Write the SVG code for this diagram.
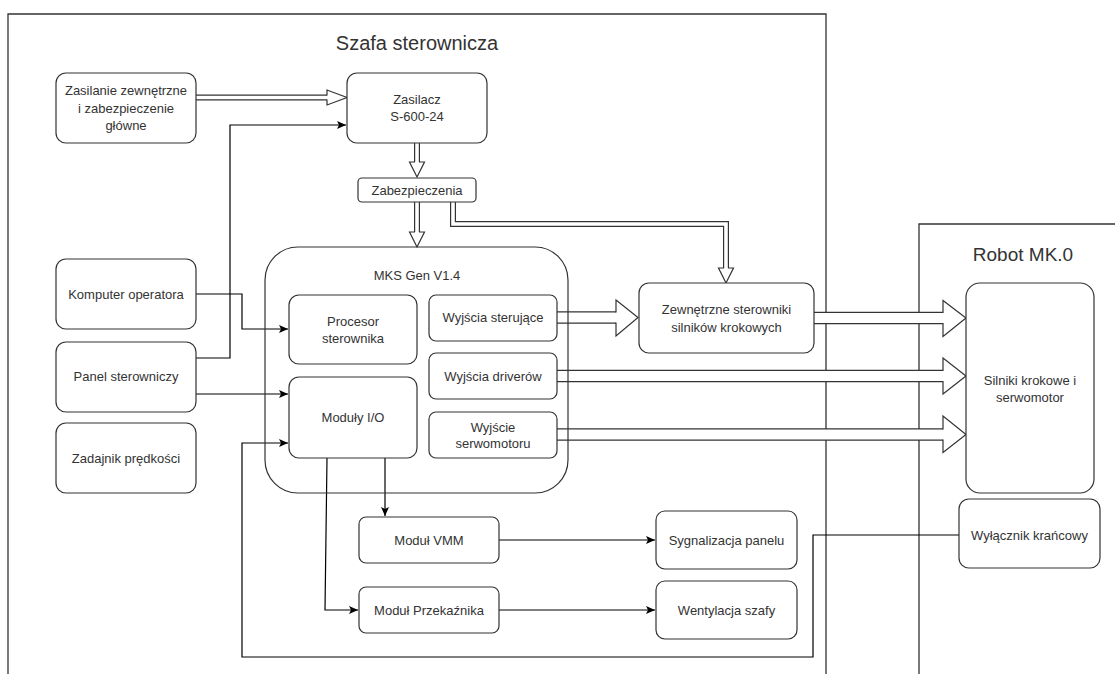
<svg xmlns="http://www.w3.org/2000/svg" width="1115" height="674" viewBox="0 0 1115 674">
<style>
.box{fill:#fff;stroke:#333;stroke-width:1.2}
.frame{fill:none;stroke:#333;stroke-width:1.3}
.t{font-family:"Liberation Sans",Arial,sans-serif;font-size:13px;fill:#333;text-anchor:middle}
.title{font-family:"Liberation Sans",Arial,sans-serif;fill:#333;text-anchor:middle}
.ln{fill:none;stroke:#000;stroke-width:1.2}
.fo{fill:none;stroke:#333;stroke-linejoin:miter}
.fi{fill:none;stroke:#fff;stroke-linejoin:miter}
.hd{fill:#fff;stroke:#333;stroke-width:1.2;stroke-linejoin:miter}
</style>
<defs>
<marker id="arr" markerUnits="userSpaceOnUse" markerWidth="10" markerHeight="10" refX="9" refY="4" orient="auto">
<path d="M0,0 L9,4 L0,8 L2,4 z" fill="#000"/>
</marker>
</defs>

<g id="containers">
<path class="frame" d="M8,674 L8,14 L826,14 L826,674"/>
<text class="title" x="417" y="50" font-size="20">Szafa sterownicza</text>
<path class="frame" d="M919,674 L919,224 L1115,224"/>
<text class="title" x="1023" y="261" font-size="19">Robot MK.0</text>
</g>

<g id="connectors">
<!-- thin connectors -->
<path class="ln" d="M196,358 L230,358 L230,125 L346,125" marker-end="url(#arr)"/>
<path class="ln" d="M196,294 L242,294 L242,329 L288,329" marker-end="url(#arr)"/>
<path class="ln" d="M196,394 L288,394" marker-end="url(#arr)"/>
<path class="ln" d="M959,535 L813,535 L813,657 L242,657 L242,443 L288,443" marker-end="url(#arr)"/>
<path class="ln" d="M385,458 L385,516" marker-end="url(#arr)"/>
<path class="ln" d="M327,458 L325,610 L358,610" marker-end="url(#arr)"/>
<path class="ln" d="M499,540 L655,540" marker-end="url(#arr)"/>
<path class="ln" d="M499,610 L655,610" marker-end="url(#arr)"/>

<!-- small flex arrows -->
<path class="fo" stroke-width="6" d="M196,97.5 L327,97.5"/>
<path class="fi" stroke-width="3.6" d="M196,97.5 L328,97.5"/>
<path class="hd" d="M327,95.5 L327,90 L347,97.5 L327,105 L327,99.5"/>

<path class="fo" stroke-width="6" d="M417,143 L417,162"/>
<path class="fi" stroke-width="3.6" d="M417,143 L417,163"/>
<path class="hd" d="M415,162 L409.5,162 L417,177 L424.5,162 L419,162"/>

<path class="fo" stroke-width="6" d="M417,202 L417,232"/>
<path class="fi" stroke-width="3.6" d="M417,202 L417,233"/>
<path class="hd" d="M415,232 L409.5,232 L417,247 L424.5,232 L419,232"/>

<path class="fo" stroke-width="6" d="M453,202 L453,224 L726,224 L726,268"/>
<path class="fi" stroke-width="3.6" d="M453,202 L453,224 L726,224 L726,269"/>
<path class="hd" d="M724,268 L718.5,268 L726,283 L733.5,268 L728,268"/>

<!-- big flex arrows -->
<path class="fo" stroke-width="12.5" d="M557,317.5 L616,317.5"/>
<path class="fi" stroke-width="10" d="M557,317.5 L617,317.5"/>
<path class="hd" d="M616,312.5 L616,300 L638,317.5 L616,336 L616,322.5"/>

<path class="fo" stroke-width="12.5" d="M814,318 L943,318"/>
<path class="fi" stroke-width="10" d="M814,318 L944,318"/>
<path class="hd" d="M943,313 L943,300.5 L966,318 L943,336.5 L943,323"/>

<path class="fo" stroke-width="12.5" d="M557,376 L943,376"/>
<path class="fi" stroke-width="10" d="M557,376 L944,376"/>
<path class="hd" d="M943,371 L943,358 L966,376 L943,394 L943,381"/>

<path class="fo" stroke-width="12.5" d="M557,434.5 L943,434.5"/>
<path class="fi" stroke-width="10" d="M557,434.5 L944,434.5"/>
<path class="hd" d="M943,429.5 L943,416 L966,434.5 L943,452.5 L943,439.5"/>
</g>

<g id="zasilanie">
<rect class="box" x="56" y="73" width="140" height="70" rx="10"/>
<text class="t" x="126" y="95">Zasilanie zewnętrzne</text>
<text class="t" x="126" y="112.5">i zabezpieczenie</text>
<text class="t" x="126" y="130">główne</text>
</g>
<g id="zasilacz">
<rect class="box" x="347" y="73" width="140" height="70" rx="10"/>
<text class="t" x="417" y="104">Zasilacz</text>
<text class="t" x="417" y="121">S-600-24</text>
</g>
<g id="zabezpieczenia">
<rect class="box" x="358" y="178" width="118" height="24" rx="4"/>
<text class="t" x="417" y="194.5">Zabezpieczenia</text>
</g>
<g id="mks">
<rect class="box" x="265" y="247" width="303" height="246" rx="33" fill="none" style="fill:none"/>
<text class="t" x="417" y="279.5">MKS Gen V1.4</text>
</g>
<g id="procesor">
<rect class="box" x="289" y="295" width="128" height="69" rx="10"/>
<text class="t" x="353" y="325.5">Procesor</text>
<text class="t" x="353" y="342.5">sterownika</text>
</g>
<g id="moduly-io">
<rect class="box" x="289" y="377" width="128" height="81" rx="10"/>
<text class="t" x="353" y="421.5">Moduły I/O</text>
</g>
<g id="wyjscia-sterujace">
<rect class="box" x="429" y="295" width="128" height="46" rx="7"/>
<text class="t" x="493" y="321.5">Wyjścia sterujące</text>
</g>
<g id="wyjscia-driverow">
<rect class="box" x="429" y="353" width="128" height="46" rx="7"/>
<text class="t" x="493" y="380.5">Wyjścia driverów</text>
</g>
<g id="wyjscie-serwo">
<rect class="box" x="429" y="412" width="128" height="46" rx="7"/>
<text class="t" x="493" y="431.5">Wyjście</text>
<text class="t" x="493" y="447.5">serwomotoru</text>
</g>
<g id="zewnetrzne-sterowniki">
<rect class="box" x="639" y="283" width="175" height="70" rx="10"/>
<text class="t" x="726.5" y="313.5">Zewnętrzne sterowniki</text>
<text class="t" x="726.5" y="331.5">silników krokowych</text>
</g>
<g id="silniki">
<rect class="box" x="966" y="283" width="128" height="210" rx="14"/>
<text class="t" x="1030" y="384.5">Silniki krokowe i</text>
<text class="t" x="1030" y="401.5">serwomotor</text>
</g>
<g id="wylacznik">
<rect class="box" x="959" y="499" width="141" height="69" rx="10"/>
<text class="t" x="1029.5" y="539.5">Wyłącznik krańcowy</text>
</g>
<g id="komputer">
<rect class="box" x="56" y="259" width="140" height="70" rx="10"/>
<text class="t" x="126" y="298.5">Komputer operatora</text>
</g>
<g id="panel">
<rect class="box" x="56" y="342" width="140" height="70" rx="10"/>
<text class="t" x="126" y="380.5">Panel sterowniczy</text>
</g>
<g id="zadajnik">
<rect class="box" x="56" y="423" width="140" height="70" rx="10"/>
<text class="t" x="126" y="462.5">Zadajnik prędkości</text>
</g>
<g id="modul-vmm">
<rect class="box" x="359" y="517" width="140" height="46" rx="7"/>
<text class="t" x="429" y="544.5">Moduł VMM</text>
</g>
<g id="modul-przekaznika">
<rect class="box" x="359" y="587" width="140" height="46" rx="7"/>
<text class="t" x="429" y="614.5">Moduł Przekaźnika</text>
</g>
<g id="sygnalizacja">
<rect class="box" x="656" y="511" width="141" height="58" rx="9"/>
<text class="t" x="726.5" y="544.5">Sygnalizacja panelu</text>
</g>
<g id="wentylacja">
<rect class="box" x="656" y="581" width="141" height="58" rx="9"/>
<text class="t" x="726.5" y="614.5">Wentylacja szafy</text>
</g>
</svg>
